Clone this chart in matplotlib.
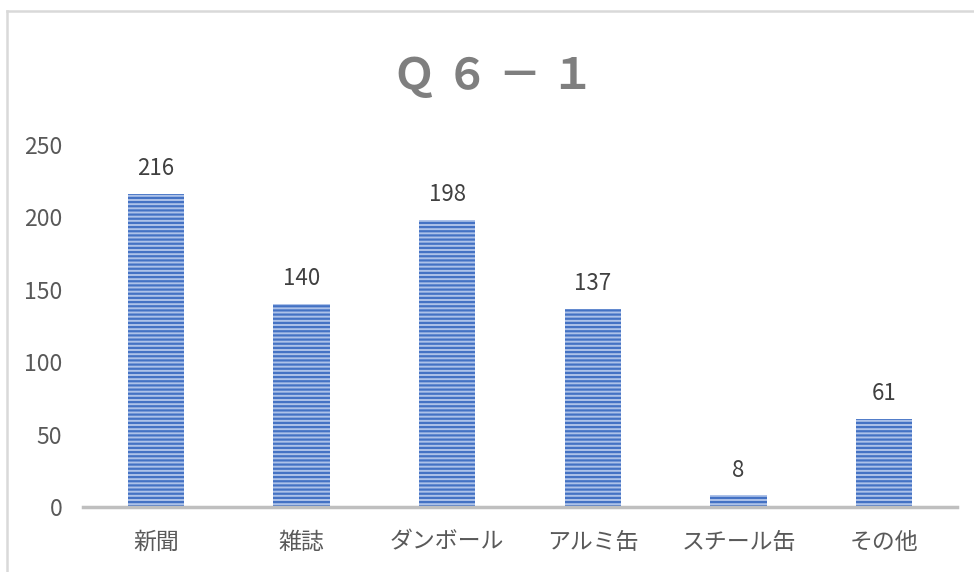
import matplotlib
matplotlib.use("Agg")
import matplotlib.pyplot as plt
from matplotlib.lines import Line2D

plt.rcParams['font.family'] = ['Noto Sans CJK JP', 'DejaVu Sans']
plt.rcParams['hatch.linewidth'] = 1.6

# data
categories = ['新聞', '雑誌', 'ダンボール', 'アルミ缶', 'スチール缶', 'その他']
counts = [216, 140, 198, 137, 8, 61]
yticks = [0, 50, 100, 150, 200, 250]
title = 'Ｑ ６ － １'

fig = plt.figure(figsize=(9.74, 5.72), dpi=100)
ax = fig.add_axes([0.0852, 0.1136, 0.8973, 0.6329])

x = range(len(categories))
bars = ax.bar(x, counts, width=0.385, color='#adc2e9', edgecolor='#4472c4',
              linewidth=0, hatch='----', zorder=2)

for xi, v in zip(x, counts):
    ax.annotate(str(v), (xi, v), xytext=(0, 10), textcoords='offset points',
                ha='center', va='bottom', fontsize=16, color='#404040')

ax.set_xlim(-0.5, len(categories) - 0.5)
ax.set_ylim(0, 250)
ax.set_yticks(yticks)
ax.set_xticks(list(x))
ax.set_xticklabels(categories)
ax.tick_params(axis='both', length=0, labelsize=16.5, colors='#595959')
ax.tick_params(axis='x', pad=17)
ax.tick_params(axis='y', pad=15)

for s in ['top', 'right', 'left']:
    ax.spines[s].set_visible(False)
ax.spines['bottom'].set_color('#bfbfbf')
ax.spines['bottom'].set_linewidth(2.5)

fig.text(0.507, 0.868, title, ha='center', va='center', fontsize=31,
         fontweight='bold', color='#7f7f7f')

# chart area border (left and top visible in reference)
fig.add_artist(Line2D([0.0077, 0.0077], [0, 0.980], transform=fig.transFigure,
                      color='#d9d9d9', linewidth=1.8))
fig.add_artist(Line2D([0.0077, 1.0], [0.980, 0.980], transform=fig.transFigure,
                      color='#d9d9d9', linewidth=1.8))

fig.savefig('out.png', dpi=100)
